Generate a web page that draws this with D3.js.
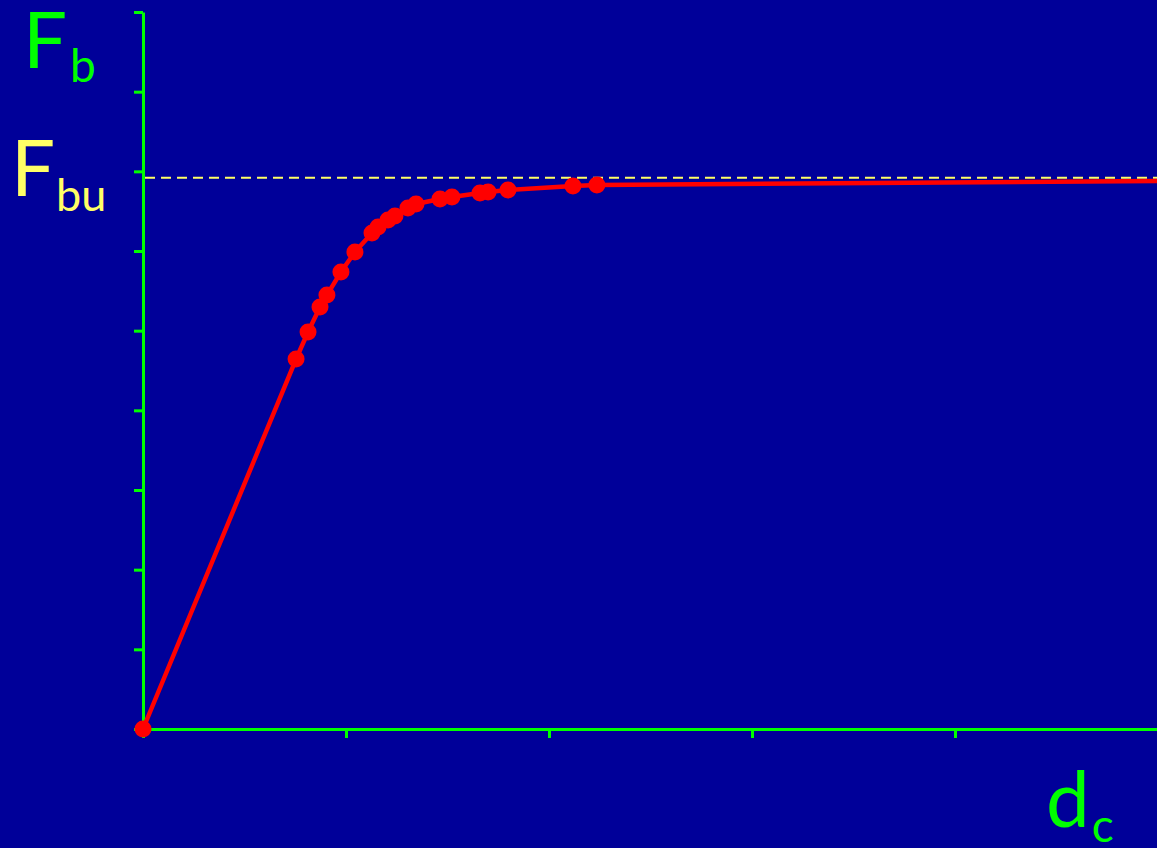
<!DOCTYPE html>
<html>
<head>
<meta charset="utf-8">
<script src="https://cdn.jsdelivr.net/npm/d3@7"></script>
<style>
  html, body { margin: 0; padding: 0; background: #000099; overflow: hidden; }
  svg { display: block; }
  .lbl { font-family: "Comic Sans MS", "Lato", "Open Sans", sans-serif; }
</style>
</head>
<body>
<svg id="chart" width="1157" height="848"></svg>
<script>
// Measured bond force F_b against crack/slip distance d_c
const dcValues = [0, 0.754, 0.813, 0.872, 0.906, 0.975, 1.044, 1.128, 1.158, 1.207, 1.241,
                  1.305, 1.345, 1.463, 1.522, 1.660, 1.700, 1.798, 2.118, 2.236];
const fbValues = [0, 4.644, 4.983, 5.297, 5.447, 5.736, 5.987, 6.226, 6.301, 6.389, 6.439,
                  6.539, 6.590, 6.652, 6.677, 6.728, 6.740, 6.765, 6.816, 6.828];
// Curve continues (without markers) towards the ultimate value
const tailDc = [5.0];
const tailFb = [6.88];
// Ultimate bond force level
const fbuLevel = 6.92;
// Axis ticks
const xTicks = [0, 1, 2, 3, 4, 5];
const yTicks = [0, 1, 2, 3, 4, 5, 6, 7, 8, 9];

const svg = d3.select("#chart");
const W = 1157, H = 848;
svg.append("rect").attr("width", W).attr("height", H).attr("fill", "#000099");

const x = d3.scaleLinear().domain([0, 5]).range([143, 1158]);
const y = d3.scaleLinear().domain([0, 9]).range([729, 12]);

const green = "#00ff00";

// Axes
const xAxis = svg.append("g")
  .attr("transform", `translate(0,${y(0)})`)
  .call(d3.axisBottom(x).tickValues(xTicks).tickSize(9).tickSizeOuter(0).tickFormat(""));
const yAxis = svg.append("g")
  .attr("transform", `translate(${x(0)},0)`)
  .call(d3.axisLeft(y).tickValues(yTicks).tickSize(9).tickSizeOuter(0).tickFormat(""));
[xAxis, yAxis].forEach(g => {
  g.select(".domain").attr("stroke", green).attr("stroke-width", 3);
  g.selectAll(".tick line").attr("stroke", green).attr("stroke-width", 3);
});

// Dashed ultimate level
svg.append("line")
  .attr("x1", x(0) + 2).attr("x2", W)
  .attr("y1", y(fbuLevel)).attr("y2", y(fbuLevel))
  .attr("stroke", "#ffff66").attr("stroke-width", 2)
  .attr("stroke-dasharray", "10,6");

// Curve
const pts = dcValues.map((d, i) => [d, fbValues[i]]);
const linePts = pts.concat(tailDc.map((d, i) => [d, tailFb[i]]));
const line = d3.line().x(d => x(d[0])).y(d => y(d[1]));
svg.append("path")
  .datum(linePts)
  .attr("d", line)
  .attr("fill", "none")
  .attr("stroke", "#ff0000")
  .attr("stroke-width", 4.5)
  .attr("stroke-linejoin", "round");

svg.append("g").selectAll("circle")
  .data(pts)
  .join("circle")
  .attr("cx", d => x(d[0]))
  .attr("cy", d => y(d[1]))
  .attr("r", 8.5)
  .attr("fill", "#ff0000");

// Labels
function subLabel(tx, ty, main, sub, color, subSize, subDx, subDy) {
  const t = svg.append("text").attr("class", "lbl")
    .attr("x", tx).attr("y", ty).attr("fill", color);
  t.append("tspan").attr("font-size", 78).text(main);
  t.append("tspan").attr("font-size", subSize).attr("dx", subDx).attr("dy", subDy).text(sub);
}
subLabel(23, 68, "F", "b", green, 46, 3, 14);
subLabel(11, 196, "F", "bu", "#ffff66", 45, 1, 15);
subLabel(1046, 827, "d", "c", green, 46, 2, 15);
</script>
</body>
</html>
